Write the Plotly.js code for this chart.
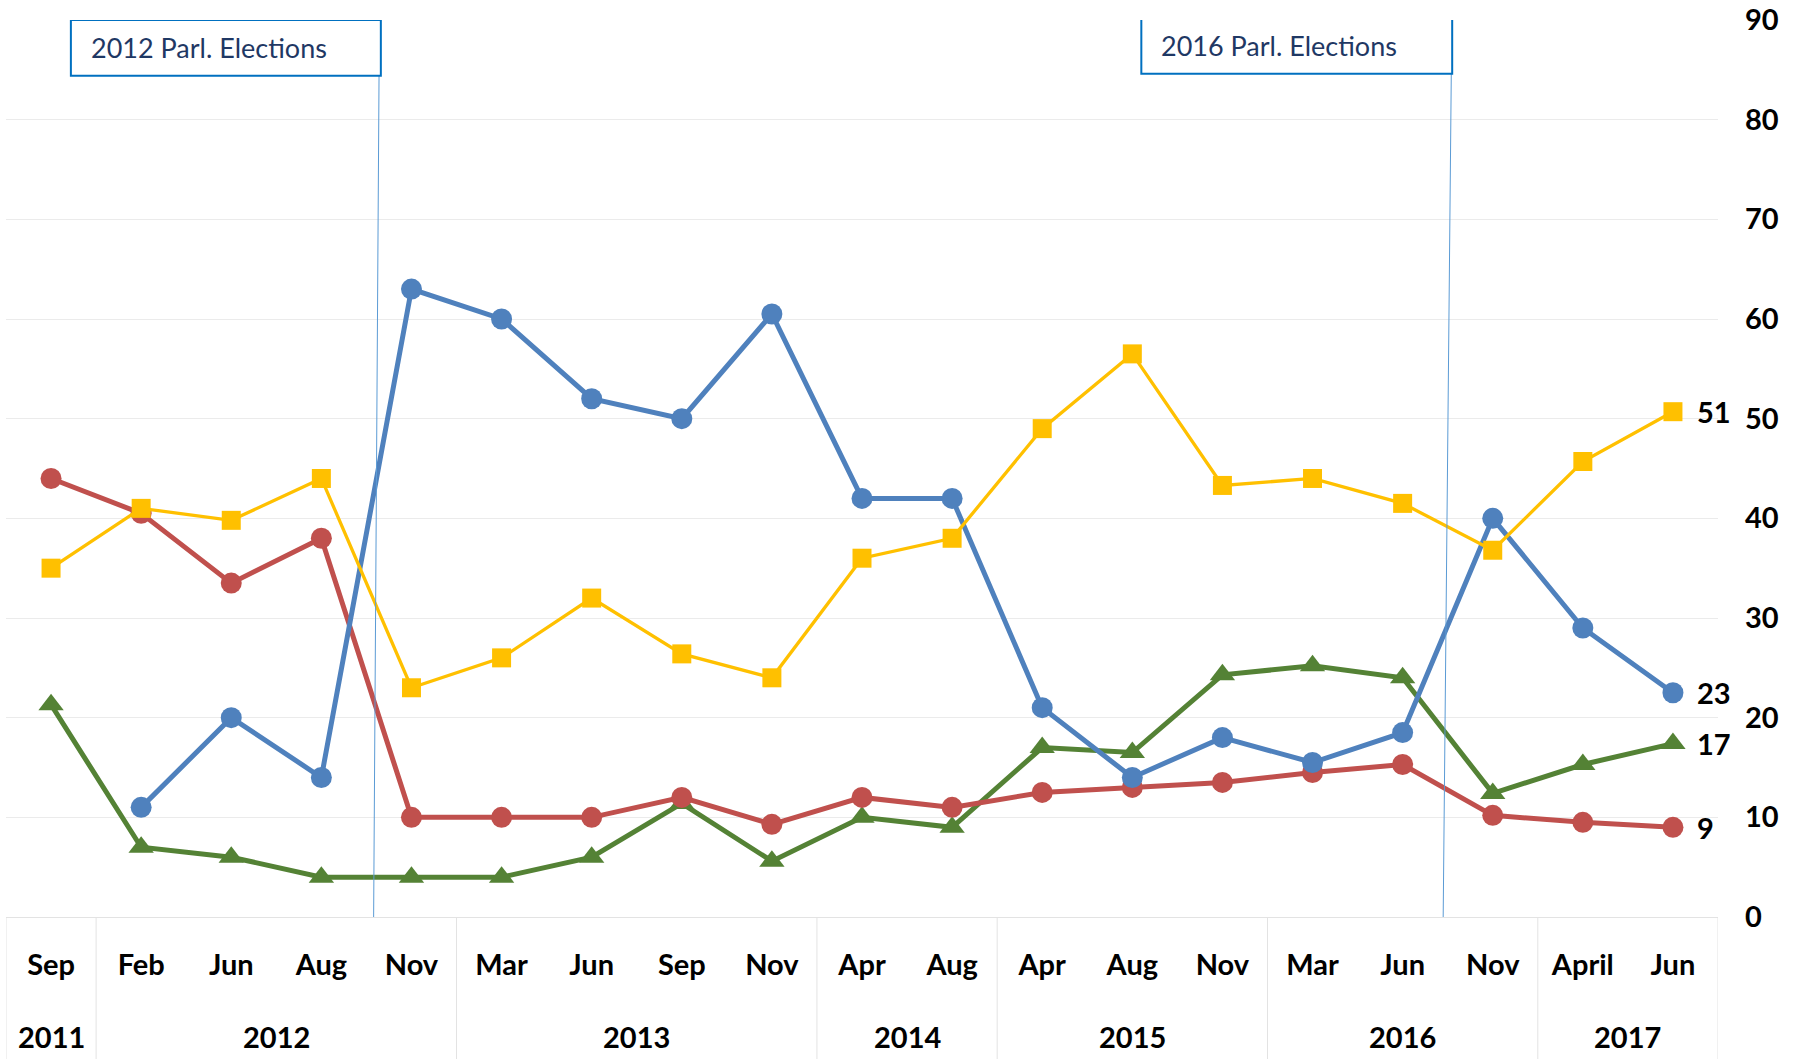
<!DOCTYPE html>
<html>
<head>
<meta charset="utf-8">
<script src="https://cdn.plot.ly/plotly-3.0.1.min.js"></script>
<style>html,body{margin:0;padding:0;background:#fff;}#chart{width:1801px;height:1059px;}</style>
</head>
<body>
<div id="chart"></div>
<script>
const months = ['Sep','Feb','Jun','Aug','Nov','Mar','Jun','Sep','Nov','Apr','Aug','Apr','Aug','Nov','Mar','Jun','Nov','April','Jun'];
const years  = ['2011','2012','2012','2012','2012','2013','2013','2013','2013','2014','2014','2015','2015','2015','2016','2016','2016','2017','2017'];

const blueSeries   = [null, 11, 20, 14, 63, 60, 52, 50, 60.5, 42, 42, 21, 14, 18, 15.5, 18.5, 40, 29, 22.5];
const redSeries    = [44, 40.5, 33.5, 38, 10, 10, 10, 12, 9.3, 12, 11, 12.5, 13, 13.5, 14.5, 15.3, 10.2, 9.5, 9];
const yellowSeries = [35, 41, 39.8, 44, 23, 26, 32, 26.4, 24, 36, 38, 49, 56.5, 43.3, 44, 41.5, 36.8, 45.7, 50.7];
const greenSeries  = [21.3, 7, 6, 4, 4, 4, 6, 11.4, 5.6, 10, 9, 17, 16.5, 24.3, 25.2, 24, 12.4, 15.3, 17.4];

const endLabels = {blue: '23', red: '9', yellow: '51', green: '17'};
const electionNotes = ['2012 Parl. Elections', '2016 Parl. Elections'];

const idx = months.map((_, i) => i);
const last = months.length - 1;

const FONT = 'Lato, "Open Sans", sans-serif';
const labelFont = {family: FONT, size: 29, color: '#000', weight: 700};

function series(y, color, symbol, size, width, name) {
  return {
    type: 'scatter', mode: 'lines+markers', name: name,
    x: idx, y: y,
    line: {color: color, width: width},
    marker: {color: color, symbol: symbol, size: size},
    cliponaxis: false, hoverinfo: 'y'
  };
}

const data = [
  series(greenSeries, '#548235', 'triangle-up', 22, 5, 'Green'),
  series(redSeries, '#C0504D', 'circle', 21, 5, 'Red'),
  series(blueSeries, '#4F81BD', 'circle', 21, 5, 'Blue'),
  series(yellowSeries, '#FFC000', 'square', 19, 3.3, 'Yellow')
];

const shapes = [];
const annotations = [];

// end-of-line value labels
[[yellowSeries, endLabels.yellow], [blueSeries, endLabels.blue], [greenSeries, endLabels.green], [redSeries, endLabels.red]]
  .forEach(([s, lbl]) => {
    annotations.push({xref: 'x', yref: 'y', x: last, y: s[last], text: lbl, showarrow: false,
      xanchor: 'left', yanchor: 'middle', xshift: 22, font: labelFont});
  });

// year group labels and dividers
const groups = [];
years.forEach((yr, i) => {
  if (!groups.length || groups[groups.length - 1].year !== yr) groups.push({year: yr, start: i, end: i});
  else groups[groups.length - 1].end = i;
});
groups.forEach((g, k) => {
  annotations.push({xref: 'x', yref: 'paper', x: (g.start + g.end) / 2, y: 0, yanchor: 'middle',
    yshift: -119, text: g.year, showarrow: false, font: labelFont});
  shapes.push({type: 'line', xref: 'x', yref: 'paper', x0: g.start - 0.5, x1: g.start - 0.5, y0: 0, y1: -0.17,
    line: {color: '#E3E3E3', width: 1}});
  if (k === groups.length - 1) {
    shapes.push({type: 'line', xref: 'x', yref: 'paper', x0: g.end + 0.5, x1: g.end + 0.5, y0: 0, y1: -0.17,
      line: {color: '#E3E3E3', width: 1}});
  }
});

// election markers (category-index units)
const boxes = [
  {x0: 0.22, x1: 3.66, y0: 84.4, y1: 90.0, lineTop: 3.64, lineBottom: 3.58},
  {x0: 12.1, x1: 15.55, y0: 84.6, y1: 90.25, lineTop: 15.54, lineBottom: 15.45}
];
boxes.forEach((b, k) => {
  shapes.push({type: 'line', xref: 'x', yref: 'y', x0: b.lineTop, x1: b.lineBottom, y0: b.y0, y1: 0,
    line: {color: '#5B9BD5', width: 1}});
  shapes.push({type: 'rect', xref: 'x', yref: 'y', x0: b.x0, x1: b.x1, y0: b.y0, y1: b.y1,
    line: {color: '#0070C0', width: 2}, fillcolor: '#ffffff', layer: 'above'});
  annotations.push({xref: 'x', yref: 'y', x: b.x0, y: (b.y0 + b.y1) / 2, xanchor: 'left', yanchor: 'middle',
    xshift: 18, text: electionNotes[k], showarrow: false, font: {family: FONT, size: 27, color: '#1F3864'}});
});

const layout = {
  width: 1801, height: 1059,
  margin: {l: 6, r: 83, t: 20, b: 142},
  paper_bgcolor: '#fff', plot_bgcolor: '#fff',
  showlegend: false,
  font: {family: FONT},
  xaxis: {
    type: 'linear', range: [-0.5, 18.5],
    tickmode: 'array', tickvals: idx, ticktext: months,
    tickfont: labelFont, showgrid: false, zeroline: false,
    showline: true, linecolor: '#E3E3E3', linewidth: 1,
    ticks: '', ticklabelstandoff: 22
  },
  yaxis: {
    side: 'right', range: [0, 90], dtick: 10, tick0: 0,
    tickfont: labelFont, gridcolor: '#EBEBEB', gridwidth: 1,
    zeroline: false, showline: false, ticks: '', ticklabelstandoff: 26
  },
  shapes: shapes,
  annotations: annotations
};

Plotly.newPlot('chart', data, layout, {displayModeBar: false, staticPlot: true});
</script>
</body>
</html>
